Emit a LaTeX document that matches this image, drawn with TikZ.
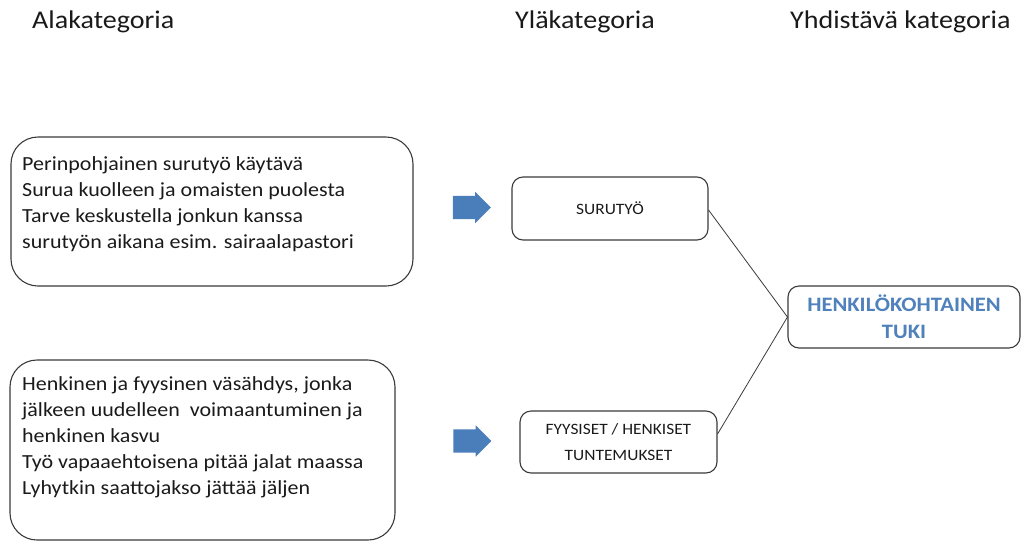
\documentclass[tikz,border=0pt]{standalone}
\usepackage{fontspec}
\setmainfont{Carlito}[FakeStretch=1.1]
\usetikzlibrary{shapes.arrows}
\definecolor{txt}{HTML}{1A1A1A}
\definecolor{edge}{HTML}{3A3A3A}
\definecolor{arrowblue}{HTML}{4A7EBB}
\definecolor{titleblue}{HTML}{4F81BD}
\tikzset{
  header/.style={anchor=base west, font=\fontsize{25.5}{30}\selectfont, text=txt, inner sep=0pt},
  subbox/.style={draw=edge, line width=1.1pt, rounded corners=27pt},
  bodytext/.style={anchor=north west, align=left, font=\fontsize{20}{26}\selectfont, text=txt, inner sep=0pt},
  catbox/.style={draw=edge, line width=1.1pt, rounded corners=11pt, align=center, text=txt, inner sep=0pt},
  blockarrow/.style={single arrow, fill=arrowblue, draw=none, minimum height=38pt,
    single arrow head extend=4pt, single arrow tip angle=90, inner sep=0pt},
  link/.style={draw=edge, line width=0.8pt}
}
\newcommand{\shaft}{\rule{0pt}{23pt}}
\begin{document}
\begin{tikzpicture}[x=1pt, y=-1pt]
\useasboundingbox (0,0) rectangle (1021,542);

% column headings
\node[header] (h1) at (32,28) {Alakategoria};
\node[header] (h2) at (515,28) {Yläkategoria};
\node[header] (h3) at (790,28) {Yhdistävä kategoria};

% lower-level categories
\draw[subbox] (11,137) rectangle (413,286);
\node[bodytext] (t1) at (22,156) {Perinpohjainen surutyö käytävä\\Surua kuolleen ja omaisten puolesta\\Tarve keskustella jonkun kanssa\\surutyön aikana esim. sairaalapastori};

\draw[subbox] (10,360) rectangle (395,540);
\node[bodytext] (t2) at (22,376) {Henkinen ja fyysinen väsähdys, jonka\\jälkeen uudelleen \ voimaantuminen ja\\henkinen kasvu\\Työ vapaaehtoisena pitää jalat maassa\\Lyhytkin saattojakso jättää jäljen};

% arrows
\node[blockarrow] (a1) at (466,207.5) {\shaft};
\node[blockarrow] (a2) at (466.5,441) {\shaft};

% upper-level categories
\node[catbox, minimum width=196pt, minimum height=63pt, font=\fontsize{15.8}{19}\selectfont] (c1) at (610,208.5) {SURUTYÖ};
\node[catbox, minimum width=197pt, minimum height=62pt, font=\fontsize{15.8}{26}\selectfont] (c2) at (618.5,442) {FYYSISET / HENKISET\\TUNTEMUKSET};

% combining category
\node[catbox, minimum width=232pt, minimum height=62pt, font=\bfseries\fontsize{20.5}{27}\selectfont, text=titleblue] (c3) at (904,317) {HENKILÖKOHTAINEN\\TUKI};

% links
\coordinate (j) at (c3.west);
\draw[link] ([yshift=-1.5pt]c1.east) -- (j);
\draw[link] ([yshift=8pt]c2.east) -- (j);
\end{tikzpicture}
\end{document}
